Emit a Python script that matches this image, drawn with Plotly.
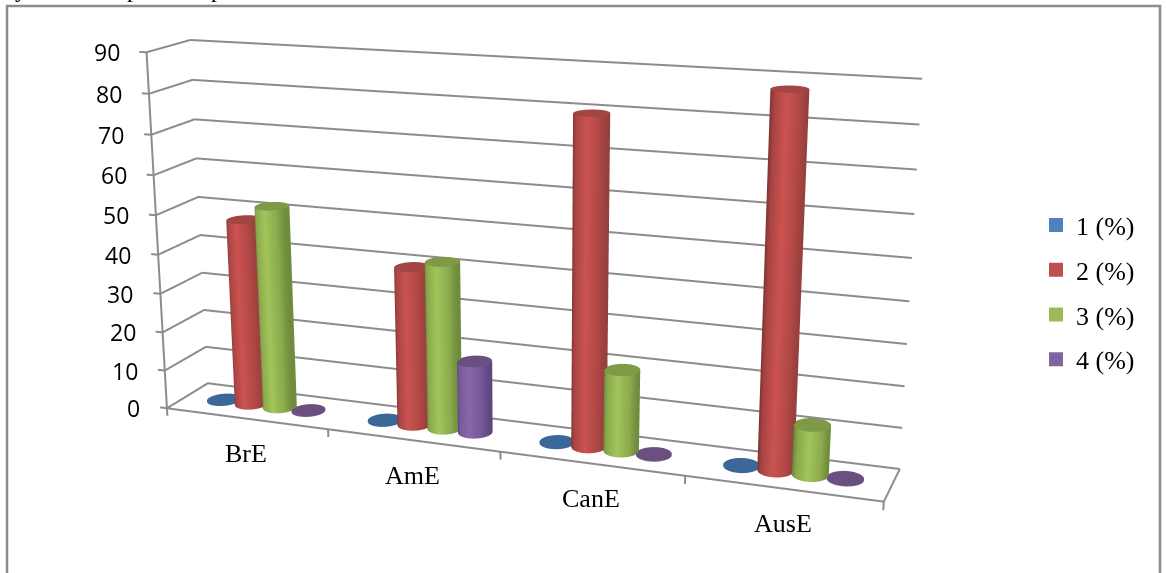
import numpy as np
import plotly.graph_objects as go

categories = ["BrE", "AmE", "CanE", "AusE"]
series_names = ["1 (%)", "2 (%)", "3 (%)", "4 (%)"]
series_1 = [0.2, 0.2, 0.2, 0.2]
series_2 = [48, 40, 80, 88]
series_3 = [52, 42, 20, 12]
series_4 = [0.2, 18, 0.2, 0.2]
z_ticks = [0, 10, 20, 30, 40, 50, 60, 70, 80, 90]

W, H = 1166, 573

# Camera and scene proportions, worked out from the reference's box corners
ay, az = float(np.exp(-3.05476)), float(np.exp(-0.68926))
eye = dict(x=0.43348, y=-1.82372, z=0.14827)
cen = dict(x=0.18786, y=0.02137, z=-0.06666)
up = dict(x=-0.06788, y=-0.09422, z=1)
SHEAR_A, SHEAR_C, SHEAR_D = 0.02967, 0.05823, -0.03721


def to_scene(u, v, w):
    """category position u (0-4), depth v (0-1), value w -> scene data coordinates"""
    u, v, w = np.asarray(u, float), np.asarray(v, float), np.asarray(w, float)
    return u + 4 * SHEAR_A * (v - .5) + 4 * SHEAR_D * (w / 90 - .5), v, w + 90 * SHEAR_C * (v - .5)


fig = go.Figure()
grid_color = "#8c8c8c"


def line(us, vs, ws):
    x, y, z = to_scene(us, vs, ws)
    fig.add_trace(go.Scatter3d(x=x, y=y, z=z, mode="lines", line=dict(color=grid_color, width=4),
                               showlegend=False, hoverinfo="skip"))


for t in z_ticks:
    line([-0.044, 0, 0, 4], [0, 0, 1, 1], [t, t, t, t])
line([0, 0], [0, 0], [0, 90])
line([0, 4, 4], [0, 0, 1], [0, 0, 0])
for i in range(len(categories) + 1):
    line([i, i], [0, 0], [0, -2])

bw = 0.178
ru, rv = 0.092, 0.22
theta = np.linspace(0, 2 * np.pi, 73)
scales = {
    0: [[0, "#33608f"], [.5, "#3b6899"], [1, "#33608f"]],
    1: [[0, "#74302f"], [.2, "#a84442"], [.55, "#cb5351"], [.85, "#b14845"], [1, "#96403d"]],
    2: [[0, "#607b35"], [.2, "#8aa84c"], [.55, "#a2c55b"], [.85, "#8cab4d"], [1, "#6f8b3d"]],
    3: [[0, "#513c6a"], [.2, "#765a98"], [.55, "#8a67ab"], [.85, "#75599a"], [1, "#5f4880"]],
}
caps = ["#3b6899", "#a24543", "#7f9a46", "#69507f"]
legend_cols = ["#4F81BD", "#C0504D", "#9BBB59", "#8064A2"]
flat = dict(ambient=1, diffuse=0, specular=0, fresnel=0, roughness=1)
for k, vals in enumerate([series_1, series_2, series_3, series_4]):
    for i, val in enumerate(vals):
        uc = i + .5 + (k - 1.5) * bw
        U = uc + ru * np.cos(theta)
        V = .5 + rv * np.sin(theta)
        UU = np.vstack([U, U])
        VV = np.vstack([V, V])
        WW = np.vstack([0 * theta, val + 0 * theta])
        x, y, z = to_scene(UU, VV, WW)
        fig.add_trace(go.Surface(x=x, y=y, z=z, surfacecolor=(1 + np.cos(np.vstack([theta, theta]))) / 2,
                                 cmin=0, cmax=1, colorscale=scales[k], showscale=False, lighting=flat,
                                 hoverinfo="skip"))
        rad = np.array([0, 1.0])
        UU = uc + ru * np.outer(rad, np.cos(theta))
        VV = .5 + rv * np.outer(rad, np.sin(theta))
        WW = val + 0 * UU
        x, y, z = to_scene(UU, VV, WW)
        fig.add_trace(go.Surface(x=x, y=y, z=z, surfacecolor=0 * UU, cmin=0, cmax=1,
                                 colorscale=[[0, caps[k]], [1, caps[k]]], showscale=False, lighting=flat,
                                 hoverinfo="skip"))
    fig.add_trace(go.Scatter3d(x=[None], y=[None], z=[None], mode="markers", name=series_names[k],
                               legendgroup=series_names[k],
                               marker=dict(symbol="square", size=14, color=legend_cols[k]), showlegend=True))

ann = []
for t in z_ticks:
    x, y, z = to_scene(0, 0, t)
    ann.append(dict(x=float(x), y=float(y), z=float(z), text=str(t), showarrow=False, xanchor="right",
                    yanchor="middle", xshift=-25, font=dict(family="Open Sans", size=23, color="#000")))
for i, c in enumerate(categories):
    x, y, z = to_scene(i + .5, 0, 0)
    ann.append(dict(x=float(x), y=float(y), z=float(z), text=c, showarrow=False, xanchor="center",
                    yanchor="middle", yshift=-35, font=dict(family="Liberation Serif", size=26, color="#000")))

top_text = [("y", 21), ("p", 133), ("p", 217)]
page_ann = [dict(text=s, x=px / W, y=1 - 3.5 / H, xref="paper", yref="paper", xanchor="center", yanchor="bottom",
                 showarrow=False, font=dict(family="Liberation Serif", size=24, color="#000"))
            for s, px in top_text]

L = 3
R = 90
fig.update_layout(
    width=W, height=H, margin=dict(l=0, r=0, t=0, b=0), paper_bgcolor="white",
    scene=dict(
        domain=dict(x=[0, 1], y=[0, 1]),
        xaxis=dict(visible=False, range=[2 - L, 2 + L]),
        yaxis=dict(visible=False, range=[0, 1]),
        zaxis=dict(visible=False, range=[45 - R, 45 + R]),
        aspectmode="manual", aspectratio=dict(x=L, y=2 * ay, z=4 * az), dragmode="orbit", annotations=ann,
        camera=dict(eye=eye, center=cen, up=up, projection=dict(type="perspective"))),
    legend=dict(x=1036 / W, y=1 - 201.5 / H, xanchor="left", yanchor="top", tracegroupgap=8,
                font=dict(family="Liberation Serif", size=26, color="#000"), bgcolor="rgba(0,0,0,0)"),
    shapes=[dict(type="rect", xref="paper", yref="paper", x0=7 / W, x1=1160 / W, y0=-0.05, y1=1 - 6 / H,
                 line=dict(color="#8c8c8c", width=2.5))],
    annotations=page_ann)
fig.write_html("out.html", post_script="document.body.style.margin='0';", config=dict(displayModeBar=False))
